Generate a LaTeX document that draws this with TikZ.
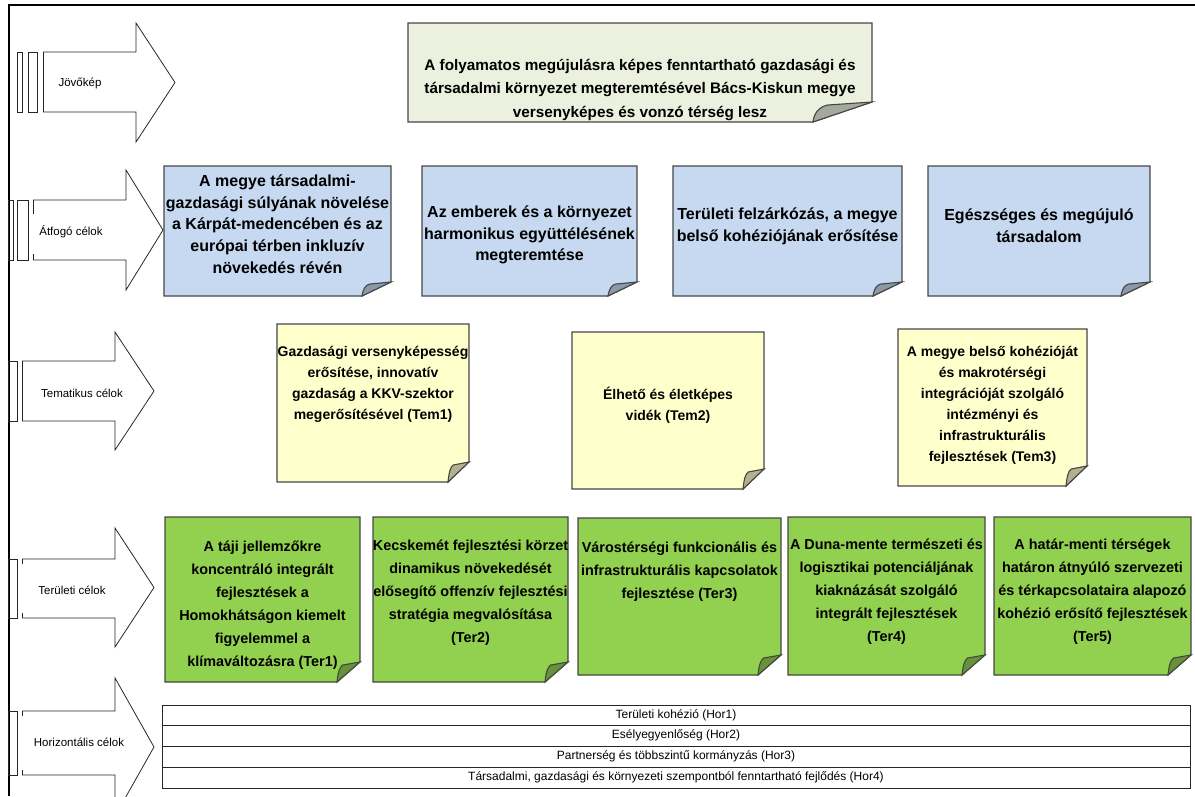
\documentclass[tikz,border=0pt]{standalone}
\usepackage{fontspec}
\setmainfont{Liberation Sans}
\definecolor{topgreen}{RGB}{235,241,222}
\definecolor{noteblue}{RGB}{198,217,240}
\definecolor{noteyellow}{RGB}{255,255,204}
\definecolor{notegreen}{RGB}{146,208,80}
\definecolor{edge}{RGB}{70,70,70}
\newcommand\notebox[7]{%
  \path[notebox, fill=#7] (#1,#2) -- (#3,#2) -- (#3,#4-#6) -- (#3-#5,#4) -- (#1,#4) -- cycle;
  \path[notebox, fill=#7!70!black] (#3-#5,#4) .. controls (#3-#5+1,#4-#6*0.45) and (#3-#5*0.9,#4-#6*0.75) .. (#3-#5*0.75,#4-#6*0.85) -- (#3,#4-#6) -- cycle;}
\newcommand\bigarrow[7]{%
  \draw[arr] (#1,#4) -- (#2,#4) -- (#2,#6) -- (#3,{(#6+#7)/2}) -- (#2,#7) -- (#2,#5) -- (#1,#5);}
\begin{document}
\begin{tikzpicture}[x=1pt,y=-1pt,
  notebox/.style={draw=edge, line width=1.1pt, line join=miter},
  arr/.style={draw=black!85, line width=0.8pt},
  lbl/.style={font=\fontsize{11.5}{13}\selectfont, inner sep=1pt},
  bt16/.style={font=\bfseries\fontsize{16}{21.7}\selectfont, align=center, inner sep=0pt},
  bt15/.style={font=\bfseries\fontsize{15.3}{23.5}\selectfont, align=center, inner sep=0pt},
  bt14/.style={font=\bfseries\fontsize{14}{21}\selectfont, align=center, inner sep=0pt},
  bg14/.style={font=\bfseries\fontsize{14.4}{23}\selectfont, align=center, inner sep=0pt},
  bar/.style={draw=black!85, line width=0.8pt},
  bartxt/.style={font=\fontsize{12}{14}\selectfont, inner sep=0pt}]
\useasboundingbox (0,0) rectangle (1195,796);
% frame
\draw[line width=2pt] (9,796) -- (9,5) -- (1195,5);

% ---- left arrows ----
\bigarrow{43}{136}{175}{52}{112}{23}{142}
\draw[arr] (43,52) -- (43,112);
\draw[arr] (17,52) rectangle (22,112);
\draw[arr] (28,52) rectangle (37,112);
\node[lbl] (lJ) at (80,83) {Jövőkép};

\bigarrow{33}{126}{163}{200}{260}{170}{290}
\draw[arr] (33,200) -- (33,214);
\draw[arr] (33,254) -- (33,260);
\draw[arr] (8,200) rectangle (13,260);
\draw[arr] (17,200) rectangle (28,260);
\node[lbl] (lA) at (71,232) {Átfogó célok};

\bigarrow{22}{115}{154}{361}{421}{332}{450}
\draw[arr] (22,361) -- (22,421);
\draw[arr] (8,361) rectangle (17,421);
\node[lbl] (lT) at (82,393) {Tematikus célok};

\bigarrow{22}{115}{154}{559}{618}{528}{647}
\draw[arr] (22,559) -- (22,564);
\draw[arr] (22,613) -- (22,618);
\draw[arr] (8,559) rectangle (17,618);
\node[lbl] (lR) at (72,590) {Területi célok};

\bigarrow{22}{115}{154}{711}{775}{678}{816}
\draw[arr] (22,711) -- (22,716);
\draw[arr] (22,770) -- (22,775);
\draw[arr] (8,711) rectangle (17,775);
\node[lbl] (lH) at (79,742) {Horizontális célok};

% ---- vision ----
\notebox{408}{23}{872}{122}{59}{20}{topgreen}
\node[bt15] (vision) at (640,90) {A folyamatos megújulásra képes fenntartható gazdasági és\\társadalmi környezet megteremtésével Bács-Kiskun megye\\versenyképes és vonzó térség lesz};

% ---- overarching goals ----
\notebox{164}{166}{391}{296}{29}{14}{noteblue}
\notebox{422}{166}{637}{296}{29}{14}{noteblue}
\notebox{673}{166}{902}{296}{29}{14}{noteblue}
\notebox{928}{166}{1150}{296}{29}{14}{noteblue}
\node[bt16] (a1) at (277.5,224) {A megye társadalmi-\\gazdasági súlyának növelése\\a Kárpát-medencében és az\\európai térben inkluzív\\növekedés révén};
\node[bt16] (a2) at (529.5,235) {Az emberek és a környezet\\harmonikus együttélésének\\megteremtése};
\node[bt16] (a3) at (787.5,226) {Területi felzárkózás, a megye\\belső kohéziójának erősítése};
\node[bt16] (a4) at (1039,226) {Egészséges és megújuló\\társadalom};

% ---- thematic goals ----
\notebox{277}{324}{469}{482}{21}{20}{noteyellow}
\notebox{572}{332}{764}{489}{21}{20}{noteyellow}
\notebox{898}{329}{1087}{486}{21}{20}{noteyellow}
\node[bt14] (t1) at (373,384) {Gazdasági versenyképesség\\erősítése, innovatív\\gazdaság a KKV-szektor\\megerősítésével (Tem1)};
\node[bt14] (t2) at (668,405) {Élhető és életképes\\vidék (Tem2)};
\node[bt14] (t3) at (992.5,405) {A megye belső kohézióját\\és makrotérségi\\integrációját szolgáló\\intézményi és\\infrastrukturális\\fejlesztések (Tem3)};

% ---- territorial goals ----
\notebox{165}{517}{360}{682}{23}{20}{notegreen}
\notebox{373}{517}{568}{682}{23}{20}{notegreen}
\notebox{578}{518}{781}{675}{23}{20}{notegreen}
\notebox{788}{517}{985}{675}{23}{20}{notegreen}
\notebox{994}{517}{1191}{675}{23}{20}{notegreen}
\node[bg14] (r1) at (262.5,605) {A táji jellemzőkre\\koncentráló integrált\\fejlesztések a\\Homokhátságon kiemelt\\figyelemmel a\\klímaváltozásra (Ter1)};
\node[bg14] (r2) at (470.5,593) {Kecskemét fejlesztési körzet\\dinamikus növekedését\\elősegítő offenzív fejlesztési\\stratégia megvalósítása\\(Ter2)};
\node[bg14] (r3) at (679.5,572) {Várostérségi funkcionális és\\infrastrukturális kapcsolatok\\fejlesztése (Ter3)};
\node[bg14] (r4) at (886.5,592) {A Duna-mente természeti és\\logisztikai potenciáljának\\kiaknázását szolgáló\\integrált fejlesztések\\(Ter4)};
\node[bg14] (r5) at (1092.5,592) {A határ-menti térségek\\határon átnyúló szervezeti\\és térkapcsolataira alapozó\\kohézió erősítő fejlesztések\\(Ter5)};

% ---- horizontal goals ----
\draw[bar] (162,705) rectangle (1190,788);
\draw[bar] (162,725) -- (1190,725);
\draw[bar] (162,746) -- (1190,746);
\draw[bar] (162,767) -- (1190,767);
\node[bartxt] (h1) at (676,715) {Területi kohézió (Hor1)};
\node[bartxt] (h2) at (676,735.5) {Esélyegyenlőség (Hor2)};
\node[bartxt] (h3) at (676,756.5) {Partnerség és többszintű kormányzás (Hor3)};
\node[bartxt] (h4) at (676,777.5) {Társadalmi, gazdasági és környezeti szempontból fenntartható fejlődés (Hor4)};
\end{tikzpicture}
\end{document}
